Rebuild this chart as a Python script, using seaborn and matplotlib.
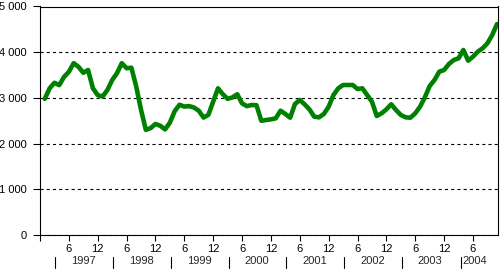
import matplotlib
matplotlib.use("Agg")
import matplotlib.pyplot as plt
import matplotlib.transforms as mtransforms
import seaborn as sns
import pandas as pd
import numpy as np

# Monthly index values, Jan 1997 .. Nov 2004
values = [
    2980, 3210, 3330, 3280, 3460, 3570, 3760, 3680, 3550, 3610, 3210, 3060,
    3030, 3170, 3390, 3540, 3760, 3650, 3660, 3250, 2740, 2300, 2340, 2430,
    2390, 2310, 2460, 2710, 2850, 2810, 2820, 2790, 2720, 2570, 2630, 2920,
    3210, 3080, 2980, 3010, 3080, 2880, 2820, 2845, 2840, 2500, 2516, 2531,
    2553, 2720, 2648, 2567, 2867, 2954, 2860, 2750, 2589, 2575, 2648, 2808,
    3063, 3210, 3282, 3282, 3282, 3195, 3210, 3063, 2917, 2604, 2663, 2750,
    2860, 2735, 2626, 2575, 2567, 2663, 2808, 3013, 3260, 3392, 3574, 3611,
    3742, 3829, 3866, 4048, 3814, 3902, 4011, 4085, 4195, 4376, 4617,
]
years = ["1997", "1998", "1999", "2000", "2001", "2002", "2003", "2004"]
month_labels = ["6", "12"]
y_ticks = [0, 1000, 2000, 3000, 4000, 5000]
y_tick_labels = ["0", "1 000", "2 000", "3 000", "4 000", "5 000"]

df = pd.DataFrame({"month": np.arange(len(values)), "value": values})

sns.set_style("white")
plt.rcParams["font.family"] = ["Liberation Sans", "DejaVu Sans"]
FS = 8

fig = plt.figure(figsize=(5.0, 2.69), dpi=100)
ax = fig.add_axes([40 / 500, 1 - 235 / 269, 458 / 500, 228.5 / 269])

sns.lineplot(data=df, x="month", y="value", ax=ax, color="#008000",
             linewidth=3.3, solid_joinstyle="round", zorder=3)

ax.set_xlim(-1, 94.2)
ax.set_ylim(0, 5000)
ax.set_xlabel("")
ax.set_ylabel("")

# y axis
ax.set_yticks(y_ticks)
ax.set_yticklabels(y_tick_labels, fontsize=FS)
ax.tick_params(axis="y", direction="out", length=5, width=0.8, pad=4.5,
               colors="black", left=True)
ax.yaxis.grid(True, color="black", linewidth=0.8, linestyle=(0, (2.8, 2.8)))
ax.xaxis.grid(False)

# x axis: month ticks at 6 and 12 of each year
xt = [-1]
xl = [""]
for k in range(len(years)):
    for m, lab in zip([6, 12], month_labels):
        idx = 12 * k + m - 1
        if idx <= 94:
            xt.append(idx)
            xl.append(lab)
ax.set_xticks(xt)
ax.set_xticklabels(xl, fontsize=FS)
ax.tick_params(axis="x", direction="out", length=4.3, width=0.8, pad=2.2,
               colors="black", bottom=True)

for s in ax.spines.values():
    s.set_visible(True)
    s.set_color("black")
    s.set_linewidth(0.8)

# year labels with separators below month ticks
trans = mtransforms.blended_transform_factory(ax.transData, ax.transAxes)
for k, yr in enumerate(years):
    if yr == "2004":
        sep = 12 * k + 2.6
        ax.text(sep + 0.3, -0.115, yr, transform=trans, ha="left", va="center",
                fontsize=FS, clip_on=False)
    else:
        sep = 12 * k + 2.2
        ax.text(12 * k + 8.1, -0.115, yr, transform=trans, ha="center",
                va="center", fontsize=FS, clip_on=False)
    ax.plot([sep, sep], [-0.095, -0.145], transform=trans, color="black",
            linewidth=0.8, clip_on=False)

fig.savefig("out.png", dpi=100)
